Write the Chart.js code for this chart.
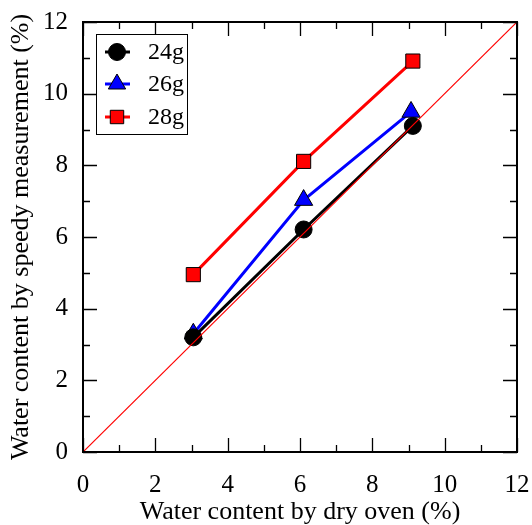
<!DOCTYPE html>
<html><head><meta charset="utf-8">
<script src="https://cdn.jsdelivr.net/npm/chart.js@4/dist/chart.umd.min.js"></script>
<style>html,body{margin:0;padding:0;background:#fff;overflow:hidden}#wrap{width:532px;height:525px}</style>
</head><body><div id="wrap"><canvas id="c" width="532" height="525"></canvas></div>
<script>
const seriesNames = ['24g', '26g', '28g'];
const xDry24 = [3.05, 6.1, 9.12];
const ySpeedy24 = [3.2, 6.21, 9.1];
const xDry26 = [3.05, 6.1, 9.07];
const ySpeedy26 = [3.3, 7.03, 9.49];
const xDry28 = [3.05, 6.1, 9.12];
const ySpeedy28 = [4.95, 8.11, 10.91];
const refLineX = [0, 12];
const refLineY = [0, 12];
const tickValues = [0, 2, 4, 6, 8, 10, 12];
const minorTickValues = [1, 3, 5, 7, 9, 11];

const FONT = '"Liberation Serif", "Times New Roman", Times, "DejaVu Serif", serif';
const pts = (xs, ys) => xs.map((x, i) => ({x: x, y: ys[i]}));

const seriesStyles = [
  {color: '#000000', fill: '#000000', style: 'circle', r: 8.5},
  {color: '#0000ff', fill: '#0000ff', style: 'triangle', r: 10.5},
  {color: '#ff0000', fill: '#ff0000', style: 'rect', r: 10}
];
const seriesData = [pts(xDry24, ySpeedy24), pts(xDry26, ySpeedy26), pts(xDry28, ySpeedy28)];

const datasets = seriesNames.map((name, i) => ({
  label: name,
  data: seriesData[i],
  borderColor: seriesStyles[i].color,
  backgroundColor: seriesStyles[i].fill,
  pointBackgroundColor: seriesStyles[i].fill,
  pointBorderColor: '#000000',
  pointBorderWidth: 1,
  pointStyle: seriesStyles[i].style,
  pointRadius: seriesStyles[i].r,
  borderWidth: 3,
  showLine: true,
  tension: 0,
  order: i + 1
}));
datasets.push({
  label: '1:1',
  data: pts(refLineX, refLineY),
  borderColor: '#ff0000',
  borderWidth: 1.2,
  pointRadius: 0,
  showLine: true,
  order: 0
});

const frameTicks = {
  id: 'frameTicks',
  afterDatasetsDraw(chart) {
    const {ctx, chartArea: a, scales} = chart;
    const xs = scales.x, ys = scales.y;
    ctx.save();
    ctx.strokeStyle = '#000';
    ctx.lineWidth = 1.3;
    const all = tickValues.map(v => [v, 14]).concat(minorTickValues.map(v => [v, 7]));
    all.forEach(([v, len]) => {
      const px = Math.round(xs.getPixelForValue(v)) + 0.5;
      const py = Math.round(ys.getPixelForValue(v)) + 0.5;
      ctx.beginPath();
      ctx.moveTo(px, a.bottom); ctx.lineTo(px, a.bottom - len);
      ctx.moveTo(px, a.top); ctx.lineTo(px, a.top + len);
      ctx.moveTo(a.left, py); ctx.lineTo(a.left + len, py);
      ctx.moveTo(a.right, py); ctx.lineTo(a.right - len, py);
      ctx.stroke();
    });
    ctx.lineWidth = 2;
    ctx.strokeRect(a.left, a.top, a.right - a.left, a.bottom - a.top);
    ctx.restore();
  }
};

const boxLegend = {
  id: 'boxLegend',
  afterDraw(chart) {
    const {ctx, chartArea: a} = chart;
    const bx = a.left + 13, by = a.top + 12, bw = 91, bh = 100;
    ctx.save();
    ctx.fillStyle = '#fff';
    ctx.fillRect(bx, by, bw, bh);
    ctx.strokeStyle = '#000';
    ctx.lineWidth = 1;
    ctx.strokeRect(bx + 0.5, by + 0.5, bw, bh);
    const rows = [18, 50, 83];
    const legR = [8.5, 10, 9.5];
    seriesNames.forEach((name, i) => {
      const ds = chart.data.datasets[i];
      const cy = by + rows[i];
      const cx = bx + 21;
      ctx.strokeStyle = ds.borderColor;
      ctx.lineWidth = 3;
      ctx.beginPath();
      ctx.moveTo(bx + 9, cy); ctx.lineTo(bx + 34, cy);
      ctx.stroke();
      ctx.fillStyle = ds.pointBackgroundColor;
      ctx.strokeStyle = '#000';
      ctx.lineWidth = 1;
      Chart.helpers.drawPoint(ctx, {pointStyle: ds.pointStyle, radius: legR[i], rotation: 0, borderWidth: 1}, cx, cy);
      ctx.fillStyle = '#000';
      ctx.font = '24px ' + FONT;
      ctx.textBaseline = 'middle';
      ctx.textAlign = 'left';
      ctx.fillText(name, bx + 52, cy + 1);
    });
    ctx.restore();
  }
};

const axisCommon = {
  type: 'linear', min: 0, max: 12,
  grid: {display: false, drawTicks: false, drawOnChartArea: false},
  border: {display: false}
};

function build() {
  new Chart(document.getElementById('c'), {
    type: 'scatter',
    data: {datasets: datasets},
    options: {
      responsive: false,
      animation: false,
      devicePixelRatio: 1,
      layout: {padding: {top: 22, right: 15, left: 0, bottom: 0}},
      plugins: {legend: {display: false}, tooltip: {enabled: false}},
      scales: {
        x: Object.assign({}, axisCommon, {
          position: 'bottom',
          afterBuildTicks: s => { s.ticks = tickValues.map(v => ({value: v})); },
          ticks: {color: '#000', font: {family: FONT, size: 25}, padding: 18, maxRotation: 0},
          title: {display: true, text: 'Water content by dry oven (%)', color: '#000', font: {family: FONT, size: 26}, padding: {top: 0, bottom: -3}},
          afterFit: s => { s.height = 73; s.paddingLeft = 0; s.paddingRight = 0; }
        }),
        y: Object.assign({}, axisCommon, {
          position: 'left',
          afterBuildTicks: s => { s.ticks = tickValues.map(v => ({value: v})); },
          ticks: {color: '#000', font: {family: FONT, size: 25}, padding: 15},
          title: {display: true, text: 'Water content by speedy measurement (%)', color: '#000', font: {family: FONT, size: 26}, padding: {top: 6, bottom: 0}},
          afterFit: s => { s.width = 83; s.paddingTop = 0; s.paddingBottom = 0; }
        })
      }
    },
    plugins: [frameTicks, boxLegend]
  });
}

const fontLoads = [document.fonts.load('25px "Liberation Serif"', 'Water 0123456789%g')];
Promise.all(fontLoads).then(build, build);
</script>
</body></html>
